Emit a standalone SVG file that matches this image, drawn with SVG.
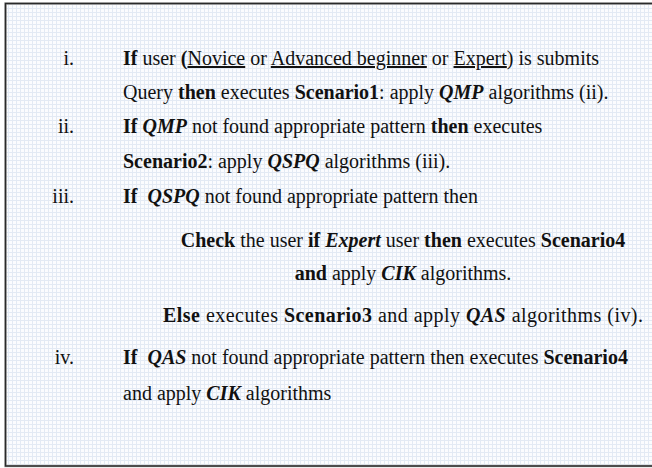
<svg xmlns="http://www.w3.org/2000/svg" width="652" height="468" viewBox="0 0 652 468">
  <defs>
    <!-- fine blue-grey grid paper -->
    <pattern id="grid" width="4" height="4" patternUnits="userSpaceOnUse">
      <rect width="4" height="4" fill="#fbfcfe"/>
      <path d="M0 0.5H4M0.5 0V4" stroke="#e3eaf4" stroke-width="1" fill="none"/>
    </pattern>
    <style>
      text { font-family: "Liberation Serif", "Times New Roman", serif; font-size: 20px; fill: #111111; white-space: pre; }
      .num { text-anchor: end; }
      .mid { text-anchor: middle; }
      .b { font-weight: bold; }
      .bi { font-weight: bold; font-style: italic; }
      .u { text-decoration: underline; }
    </style>
  </defs>

  <rect width="652" height="468" fill="#ffffff"/>
  <!-- framed panel, open on the right -->
  <rect x="5.5" y="3.5" width="660" height="462.5" fill="url(#grid)" stroke="#b5b5b5" stroke-width="2.5"/>
  <rect x="5.5" y="3.5" width="660" height="462.5" fill="none" stroke="#2a2a2a" stroke-width="1.5"/>

  <g id="step-i">
    <text class="num" x="74" y="65">i.</text>
    <text x="123" y="65"><tspan class="b">If</tspan> user <tspan class="b">(</tspan><tspan class="u">Novice</tspan> or <tspan class="u">Advanced beginner</tspan> or <tspan class="u">Expert</tspan>) is submits</text>
    <text x="123" y="99">Query <tspan class="b">then</tspan> executes <tspan class="b">Scenario1</tspan>: apply <tspan class="bi">QMP</tspan> algorithms (ii).</text>
  </g>

  <g id="step-ii">
    <text class="num" x="74" y="133">ii.</text>
    <text x="123" y="133"><tspan class="b">If</tspan> <tspan class="bi">QMP</tspan> not found appropriate pattern <tspan class="b">then</tspan> executes</text>
    <text x="123" y="168"><tspan class="b">Scenario2</tspan>: apply <tspan class="bi">QSPQ</tspan> algorithms (iii).</text>
  </g>

  <g id="step-iii">
    <text class="num" x="74" y="203">iii.</text>
    <text x="123" y="203"><tspan class="b">If</tspan>  <tspan class="bi">QSPQ</tspan> not found appropriate pattern then</text>
    <text class="mid" x="403" y="247"><tspan class="b">Check</tspan> the user <tspan class="b">if</tspan> <tspan class="bi">Expert</tspan> user <tspan class="b">then</tspan> executes <tspan class="b">Scenario4</tspan></text>
    <text class="mid" x="403" y="280"><tspan class="b">and</tspan> apply <tspan class="bi">CIK</tspan> algorithms.</text>
    <text x="163" y="322" textLength="480" lengthAdjust="spacing"><tspan class="b">Else</tspan> executes <tspan class="b">Scenario3</tspan> and apply <tspan class="bi">QAS</tspan> algorithms (iv).</text>
  </g>

  <g id="step-iv">
    <text class="num" x="74" y="364">iv.</text>
    <text x="123" y="364"><tspan class="b">If</tspan>  <tspan class="bi">QAS</tspan> not found appropriate pattern then executes <tspan class="b">Scenario4</tspan></text>
    <text x="123" y="400">and apply <tspan class="bi">CIK</tspan> algorithms</text>
  </g>
</svg>
